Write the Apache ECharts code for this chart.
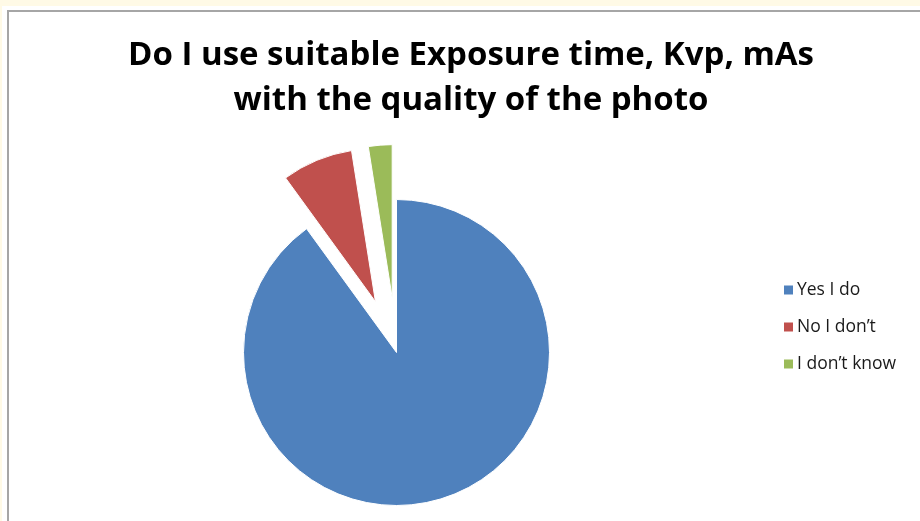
<!DOCTYPE html>
<html>
<head>
<meta charset="utf-8">
<script src="https://cdn.jsdelivr.net/npm/echarts@6/dist/echarts.min.js"></script>
<style>
  html, body { margin: 0; padding: 0; width: 920px; height: 521px; overflow: hidden; background: #fffae6; }
  #frame { position: absolute; left: 2px; top: 6px; width: 918px; height: 515px; background: #ffffff; }
  #chart { position: absolute; left: 7px; top: 10px; width: 913px; height: 511px;
           border-left: 2px solid #a6a6a6; border-top: 2px solid #a6a6a6; box-sizing: border-box; background: #fff; }
</style>
</head>
<body>
<div id="frame"></div>
<div id="chart"></div>
<script>
// Survey answers
const categories = ['Yes I do', 'No I don\u2019t', 'I don\u2019t know'];
const counts = [36, 3, 1];
const colors = ['#4f81bd', '#c0504d', '#9bbb59'];
const titleLines = ['Do I use suitable Exposure time, Kvp, mAs', 'with the quality of the photo'];

const chart = echarts.init(document.getElementById('chart'));

const pieData = categories.map((name, i) => ({
  name: name,
  value: counts[i],
  selected: i > 0,
  itemStyle: { color: colors[i] }
}));

chart.setOption({
  animation: false,
  title: {
    text: titleLines.join('\n'),
    left: 462,
    top: 21,
    padding: 0,
    textAlign: 'center',
    textStyle: {
      fontFamily: 'Open Sans',
      fontWeight: 'bold',
      fontSize: 33,
      lineHeight: 45,
      color: '#000'
    }
  },
  legend: {
    orient: 'vertical',
    left: 773,
    top: 269,
    padding: 0,
    itemWidth: 11,
    itemHeight: 11,
    itemGap: 19,
    icon: 'rect',
    textStyle: { fontFamily: 'Open Sans', fontSize: 17.5, lineHeight: 17, color: '#1a1a1a', padding: [0, 0, 0, -2] },
    data: categories
  },
  series: [{
    type: 'pie',
    center: [387.5, 340.5],
    radius: 153,
    startAngle: 90,
    clockwise: true,
    selectedMode: 'multiple',
    selectedOffset: 55,
    label: { show: false },
    labelLine: { show: false },
    emphasis: { disabled: true },
    itemStyle: { borderColor: '#ffffff', borderWidth: 1 },
    data: pieData
  }]
});
</script>
</body>
</html>
